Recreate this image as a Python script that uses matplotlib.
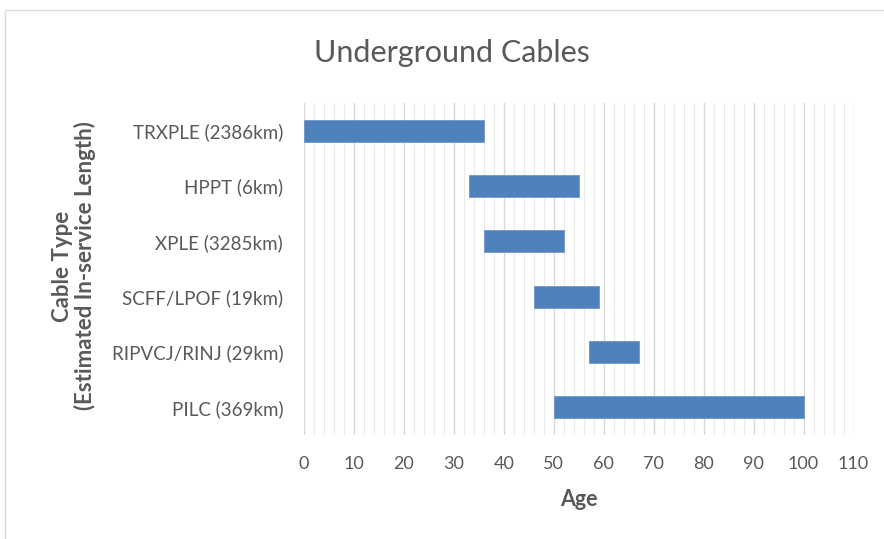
import matplotlib
matplotlib.use("Agg")
import matplotlib.pyplot as plt
from matplotlib.ticker import MultipleLocator
from matplotlib.patches import Rectangle

categories = ["TRXPLE (2386km)", "HPPT (6km)", "XPLE (3285km)",
              "SCFF/LPOF (19km)", "RIPVCJ/RINJ (29km)", "PILC (369km)"]
start_age = [0, 33, 36, 46, 57, 50]
end_age = [36, 55, 52, 59, 67, 100]
x_ticks = [0, 10, 20, 30, 40, 50, 60, 70, 80, 90, 100, 110]

FONT = ["Lato", "DejaVu Sans"]
TXT = "#595959"
BAR = "#4f81bd"

fig = plt.figure(figsize=(8.84, 5.39), dpi=100)
fig.patches.append(Rectangle((5/884, -0.1), 1.2, 1 - 10/539 + 0.1,
                             transform=fig.transFigure, fill=False,
                             edgecolor="#d9d9d9", linewidth=1.0))

ax = fig.add_axes([304/884, 1 - 435/539, (853.5 - 304)/884, (435 - 103)/539])

n = len(categories)
ypos = list(range(n))
widths = [e - s for s, e in zip(start_age, end_age)]
ax.barh(ypos, widths, left=start_age, height=0.4, color=BAR,
        edgecolor="#6f97c9", linewidth=0.6, zorder=3)

ax.set_xlim(0, 110)
ax.set_ylim(n - 0.5, -0.5)
ax.set_xticks(x_ticks)
ax.xaxis.set_minor_locator(MultipleLocator(2))
ax.grid(True, which="major", axis="x", color="#d9d9d9", linewidth=1.0, zorder=0)
ax.grid(True, which="minor", axis="x", color="#ebebeb", linewidth=0.8, zorder=0)
ax.set_axisbelow(True)
for s in ax.spines.values():
    s.set_visible(False)
ax.tick_params(axis="both", which="both", length=0)
ax.tick_params(axis="x", pad=15, labelsize=13, labelcolor=TXT)
ax.tick_params(axis="y", pad=15, labelsize=13.5, labelcolor=TXT)
ax.set_yticks(ypos)
ax.set_yticklabels(categories)
for lbl in ax.get_xticklabels() + ax.get_yticklabels():
    lbl.set_family(FONT)

ax.set_xlabel("Age", fontsize=15.5, fontweight="bold", color=TXT, family=FONT, labelpad=12)
fig.text(74/884, 1 - 266/539, "Cable Type\n(Estimated In-service Length)",
         rotation=90, ha="center", va="center", fontsize=16, fontweight="bold",
         color=TXT, family=FONT, linespacing=1.1)
fig.text(452/884, 1 - 53/539, "Underground Cables", ha="center", va="center",
         fontsize=22, color=TXT, family=FONT)

fig.savefig("out.png", dpi=100)
